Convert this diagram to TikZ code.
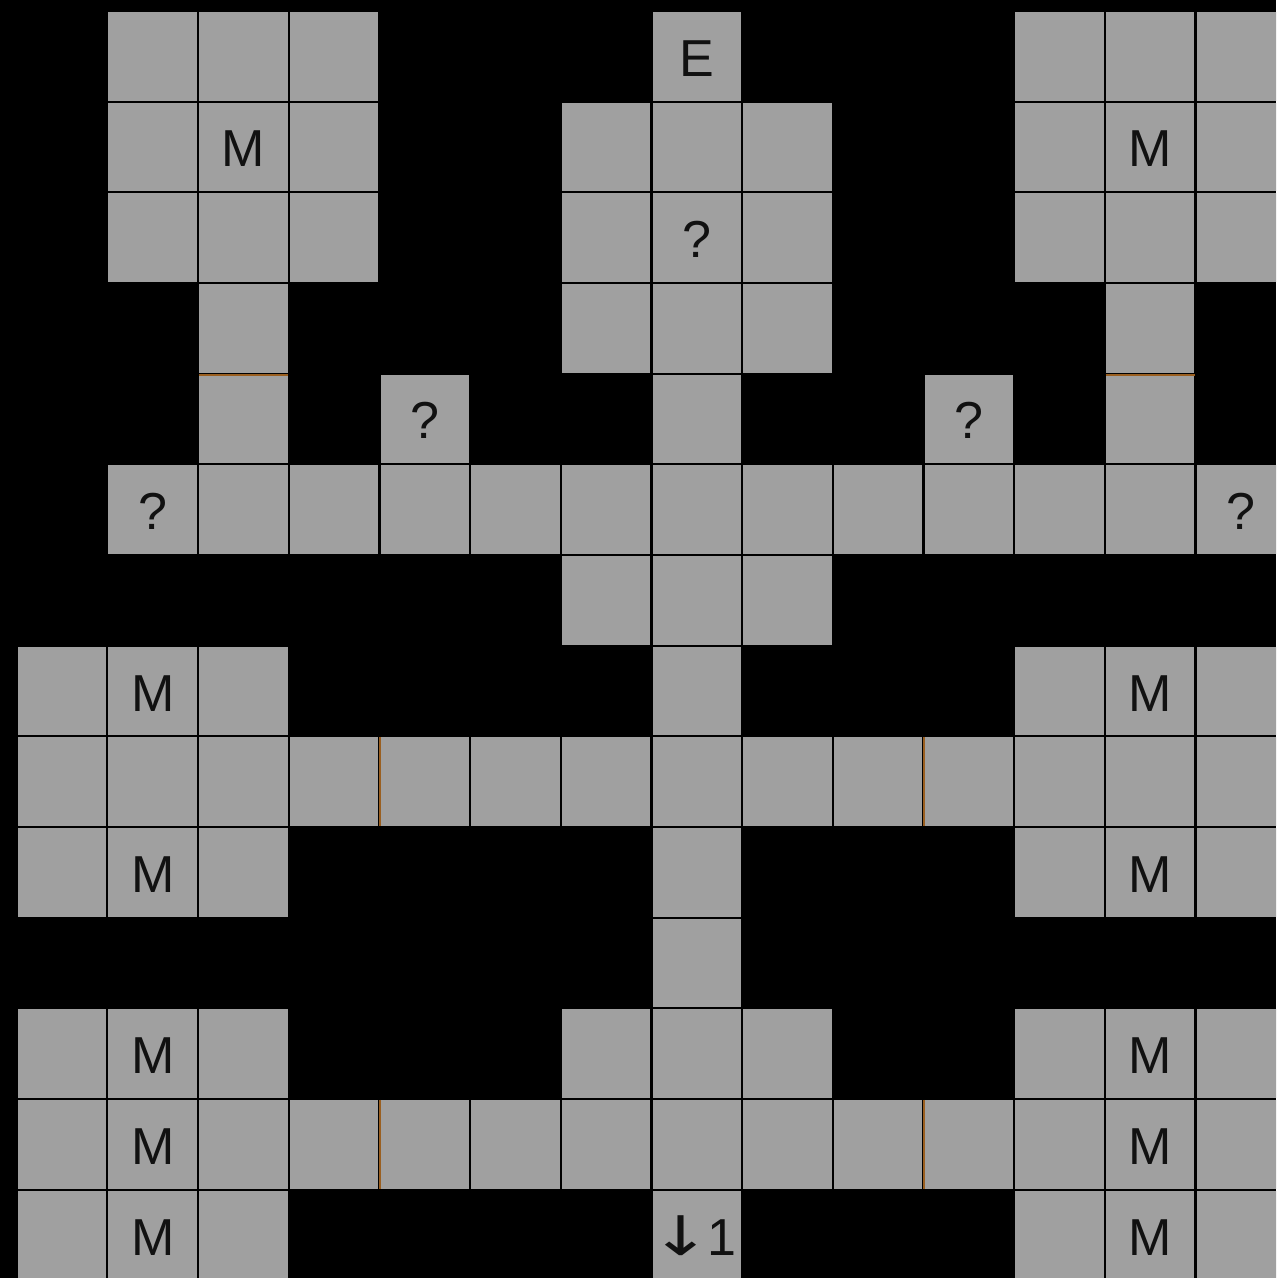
\documentclass[tikz,border=0pt]{standalone}
\usepackage{fontspec}
\setmainfont{Liberation Sans}
\newfontfamily\arrowfont{DejaVu Sans}
\usepackage{graphicx}
\usepackage{tikz}
\definecolor{cellgray}{HTML}{A0A0A0}
\definecolor{doorbrown}{HTML}{9A5F20}
\definecolor{inkblack}{HTML}{111111}

\begin{document}
\begin{tikzpicture}[
    x=68pt, y=-68pt,
    cell/.style={
        fill=cellgray, text=inkblack, minimum size=66.3pt, inner sep=0pt,
        text height=30pt, text depth=0pt, font=\fontsize{39}{44}\selectfont
    },
    door/.style={draw=doorbrown, line width=1.5pt},
    doorv/.style={door, xshift=-0.85pt},
    doorh/.style={door, yshift=0.85pt}
]

\useasboundingbox[fill=black] (-0.684,-0.621) rectangle (13.389,13.474);
\clip (-0.684,-0.621) rectangle (13.389,13.474);

% plain rooms, row by row
\foreach \r/\cols in {
    0/{1,2,3,11,12,13},
    1/{1,3,6,7,8,11,13},
    2/{1,2,3,6,8,11,12,13},
    3/{2,6,7,8,12},
    4/{2,7,12},
    5/{2,3,4,5,6,7,8,9,10,11,12},
    6/{6,7,8},
    7/{0,2,7,11,13},
    8/{0,1,2,3,4,5,6,7,8,9,10,11,12,13},
    9/{0,2,7,11,13},
    10/{7},
    11/{0,2,6,7,8,11,13},
    12/{0,2,3,4,5,6,7,8,9,10,11,13},
    13/{0,2,11,13}}
    \foreach \c in \cols
        \node[cell] (c\c r\r) at (\c,\r) {};

% rooms with a mark
\node[cell] (c7r0) at (7,0) {E};
\node[cell] (c7r2) at (7,2) {?};
\node[cell] (c4r4) at (4,4) {?};
\node[cell] (c10r4) at (10,4) {?};
\node[cell] (c1r5) at (1,5) {?};
\node[cell] (c13r5) at (13,5) {?};
\node[cell] (c7r13) at (7,13) {\makebox[60pt]{\scalebox{1.4}[1.05]{\arrowfont ↓}\hspace{-3pt}1\kern4.5pt}};
\foreach \c/\r in {2/1, 12/1, 1/7, 12/7, 1/9, 12/9, 1/11, 12/11, 1/12, 12/12, 1/13, 12/13}
    \node[cell] (c\c r\r) at (\c,\r) {M};

% doors
\draw[doorh] (c2r4.north west) -- (c2r4.north east);
\draw[doorh] (c12r4.north west) -- (c12r4.north east);
\draw[doorv] (c4r8.north west) -- (c4r8.south west);
\draw[doorv] (c10r8.north west) -- (c10r8.south west);
\draw[doorv] (c4r12.north west) -- (c4r12.south west);
\draw[doorv] (c10r12.north west) -- (c10r12.south west);

\end{tikzpicture}
\end{document}
